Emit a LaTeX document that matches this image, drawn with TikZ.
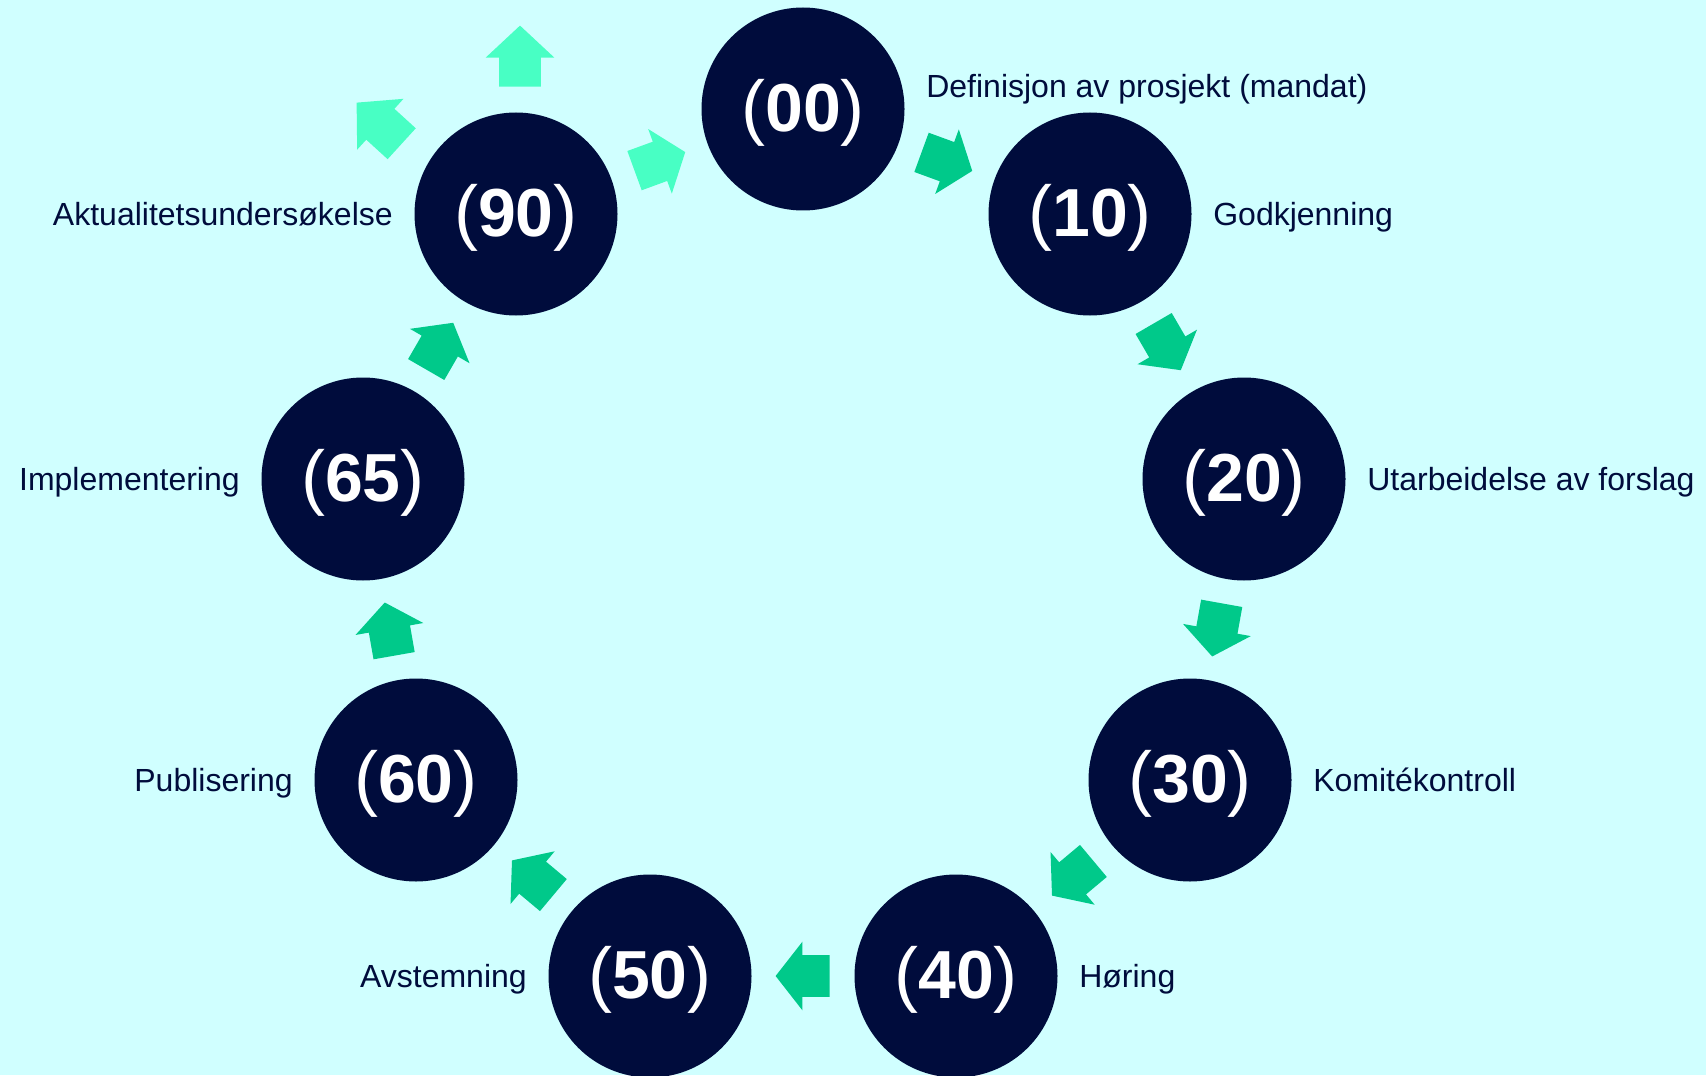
\documentclass[tikz,border=0pt]{standalone}
\usepackage{fontspec}
\setmainfont{Liberation Sans}
\usetikzlibrary{positioning,shapes.arrows,calc}

\definecolor{bgcyan}{HTML}{D0FFFF}
\definecolor{navy}{HTML}{000C3C}
\definecolor{stepgreen}{HTML}{00C98A}
\definecolor{exitgreen}{HTML}{48FFC4}

% thin brackets round a bold phase code
\newcommand{\phasecode}[1]{({\fontsize{34}{40}\selectfont\bfseries #1})}

\begin{document}
\begin{tikzpicture}[x=0.5pt, y=-0.5pt, node distance=10.5pt]
    % Style definition for the phase circles, the captions and the block arrows
    \tikzset{phase/.style={circle, fill=navy, text=white, minimum size=101.5pt, inner sep=0pt,
             font=\fontsize{36}{40}\selectfont, text height=30.4pt, text depth=7.6pt}}
    \tikzset{caption/.style={inner sep=0pt, text=navy, text height=14pt, text depth=2.8pt,
             font=\fontsize{16}{19}\selectfont}}
    \tikzset{flow/.style={single arrow, fill=stepgreen, draw=none, inner xsep=0pt, inner ysep=10.25pt,
             single arrow head extend=6.75pt, single arrow tip angle=104, minimum height=27pt,
             sloped, allow upside down, pos=0, anchor=tail}}
    \tikzset{exit/.style={flow, fill=exitgreen}}

    % Background
    \fill[bgcyan] (0,0) rectangle (1706,1075);
    \clip (0,0) rectangle (1706,1075);

    % Phase circles
    \node (c00) [phase] at (803,109) {\phasecode{00}};
    \node (c10) [phase] at (1090,214) {\phasecode{10}};
    \node (c20) [phase] at (1244,479) {\phasecode{20}};
    \node (c30) [phase] at (1190,780) {\phasecode{30}};
    \node (c40) [phase] at (956,976) {\phasecode{40}};
    \node (c50) [phase] at (650,976) {\phasecode{50}};
    \node (c60) [phase] at (416,780) {\phasecode{60}};
    \node (c65) [phase] at (363,479) {\phasecode{65}};
    \node (c90) [phase] at (516,214) {\phasecode{90}};

    % Captions beside the circles
    \node (l00) [caption, right=of c00, yshift=11.5pt] {Definisjon av prosjekt (mandat)};
    \node (l10) [caption, right=of c10] {Godkjenning};
    \node (l20) [caption, right=of c20] {Utarbeidelse av forslag};
    \node (l30) [caption, right=of c30] {Komitékontroll};
    \node (l40) [caption, right=of c40] {Høring};
    \node (l50) [caption, left=of c50] {Avstemning};
    \node (l60) [caption, left=of c60] {Publisering};
    \node (l65) [caption, left=of c65] {Implementering};
    \node (l90) [caption, left=of c90] {Aktualitetsundersøkelse};

    % Block arrows between the phases (tail half an arrow before the midpoint)
    \path ($(c00)!0.5!(c10)!13.5pt!(c00)$) -- node[flow] {} (c10);
    \path ($(c10)!0.5!(c20)!13.5pt!(c10)$) -- node[flow] {} (c20);
    \path ($(c20)!0.5!(c30)!13.5pt!(c20)$) -- node[flow] {} (c30);
    \path ($(c30)!0.5!(c40)!13.5pt!(c30)$) -- node[flow] {} (c40);
    \path ($(c40)!0.5!(c50)!13.5pt!(c40)$) -- node[flow] {} (c50);
    \path ($(c50)!0.5!(c60)!13.5pt!(c50)$) -- node[flow] {} (c60);
    \path ($(c60)!0.5!(c65)!13.5pt!(c60)$) -- node[flow] {} (c65);
    \path ($(c65)!0.5!(c90)!13.5pt!(c65)$) -- node[flow] {} (c90);
    \path ($(c90)!0.5!(c00)!13.5pt!(c90)$) -- node[exit] {} (c00);

    % Exit arrows out of (90)
    \coordinate (upTail) at (520,87);
    \coordinate (upTip) at (520,26);
    \coordinate (leftTail) at (402,144);
    \coordinate (leftTip) at (357,103);
    \path (upTail) -- node[exit, minimum height=30.5pt, single arrow tip angle=94] {} (upTip);
    \path (leftTail) -- node[exit, minimum height=30.5pt, single arrow tip angle=94] {} (leftTip);

\end{tikzpicture}
\end{document}
